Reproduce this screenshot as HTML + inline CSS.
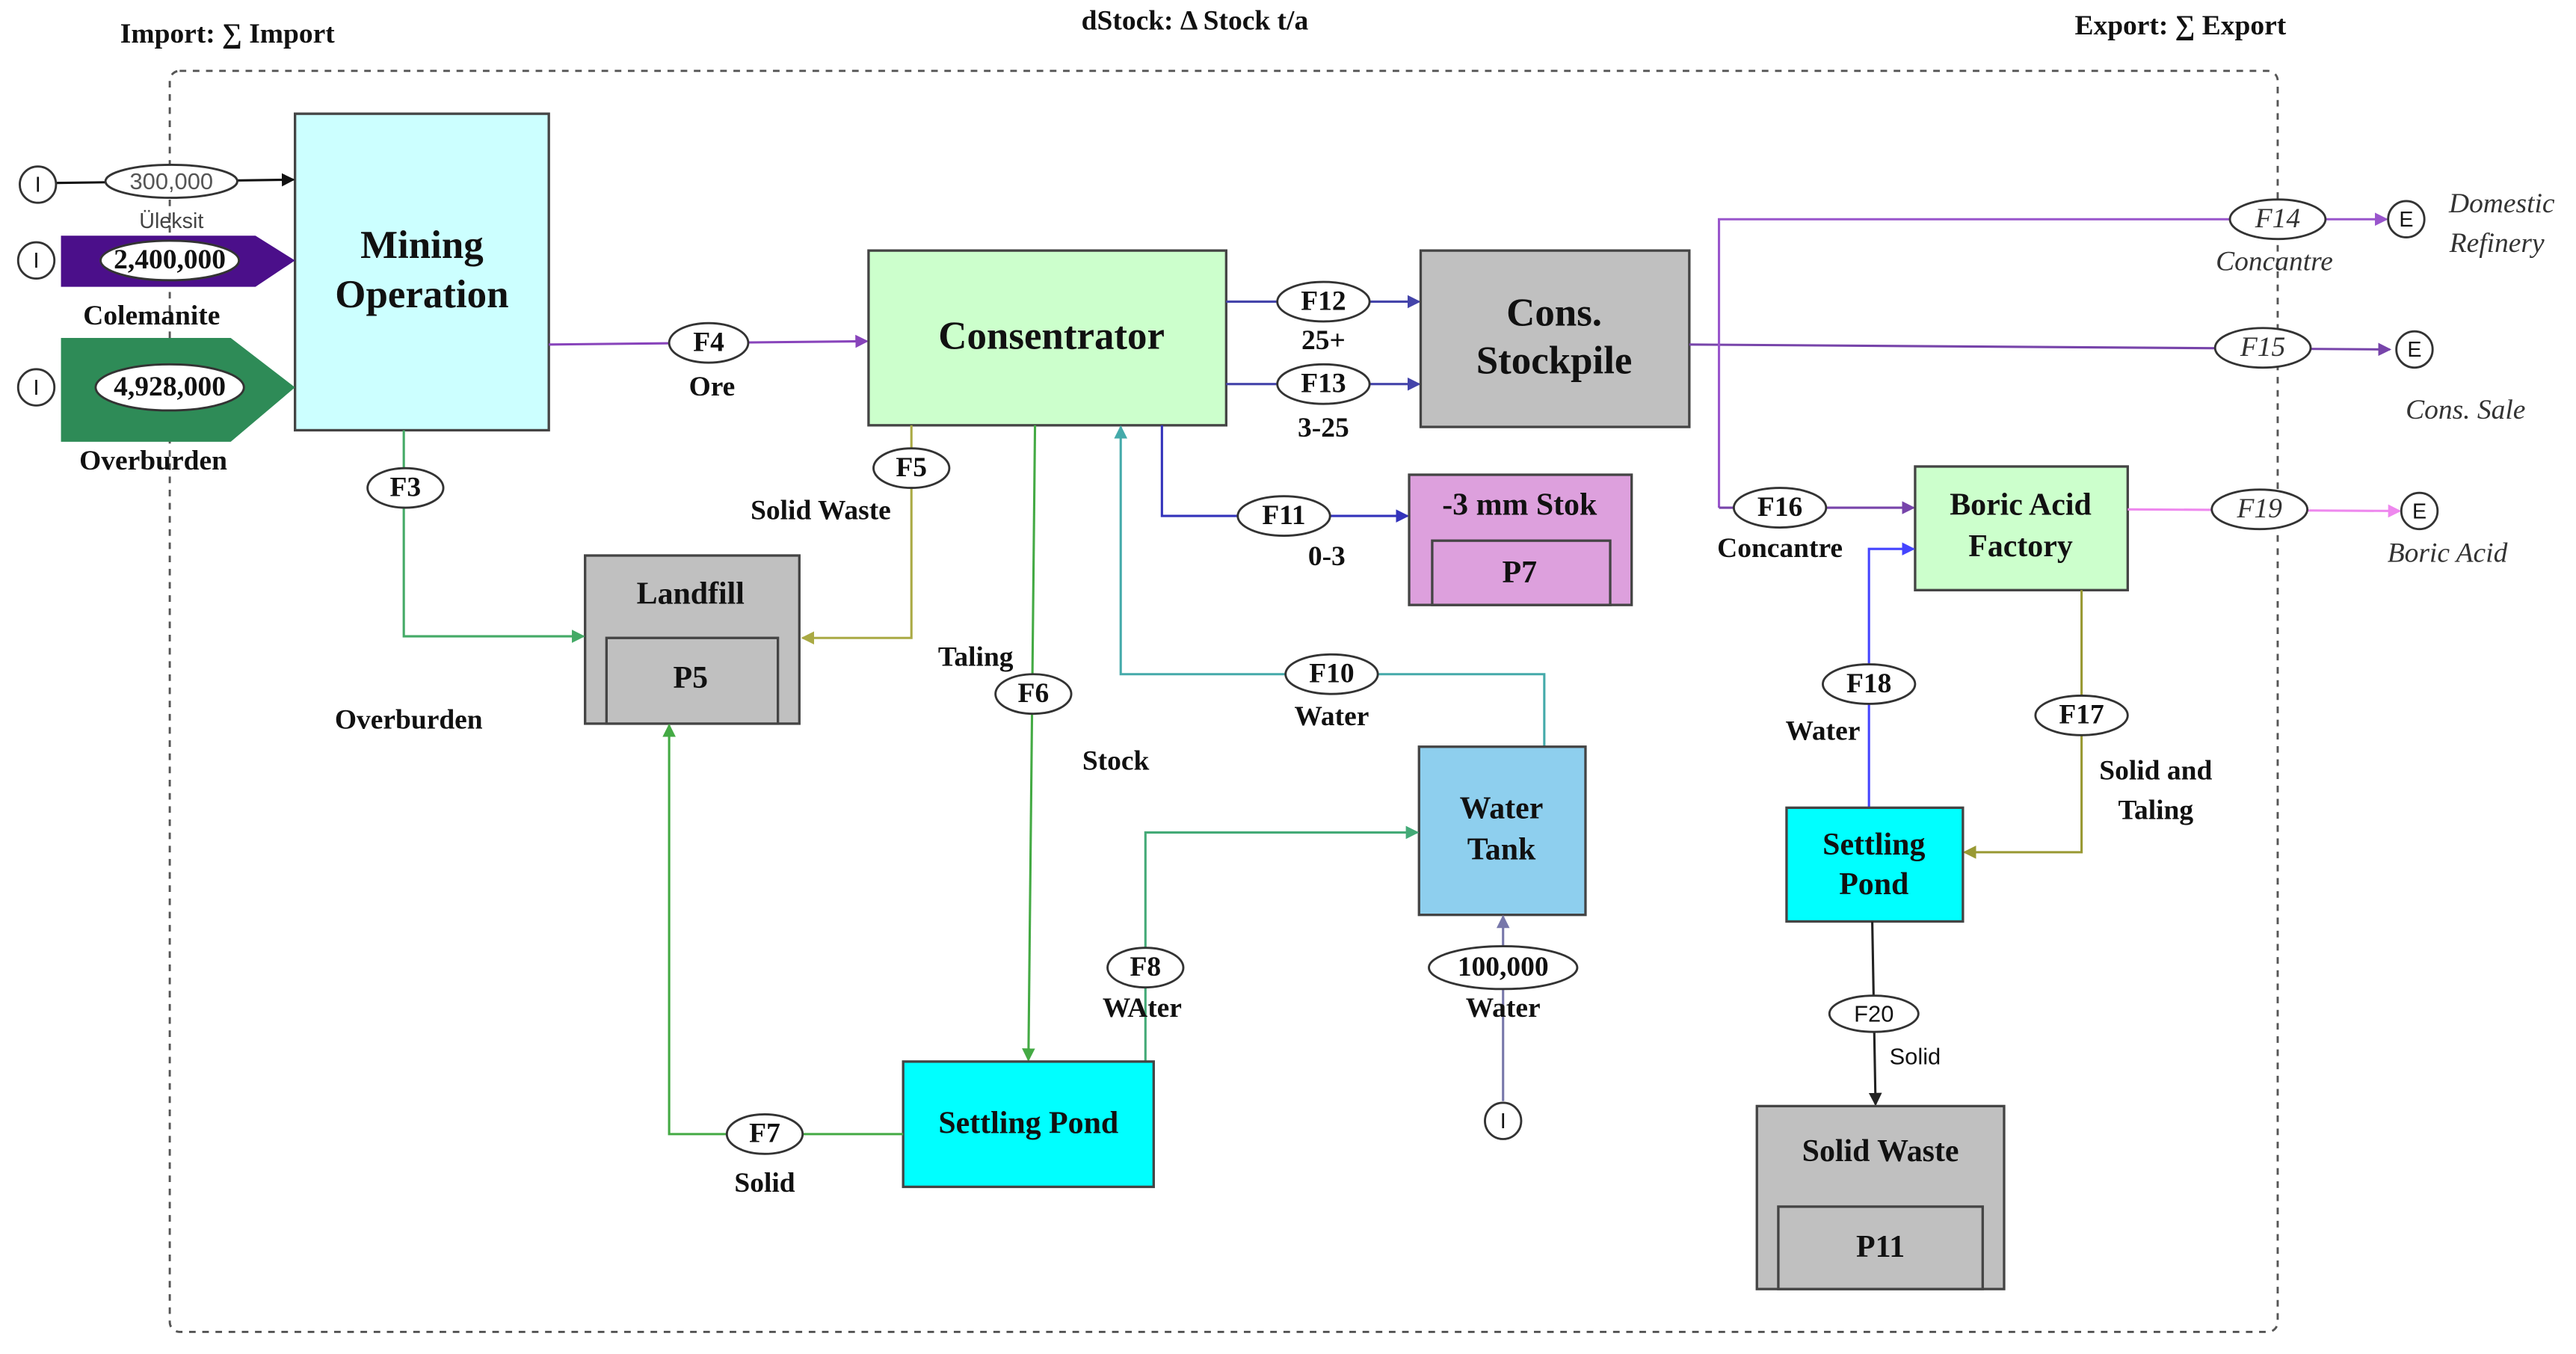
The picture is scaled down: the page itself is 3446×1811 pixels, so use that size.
<!DOCTYPE html>
<html><head><meta charset="utf-8"><style>
html,body{margin:0;padding:0;background:#fff;}
svg{display:block;}
text{font-family:"Liberation Serif",serif;font-weight:bold;fill:#111;text-anchor:middle;dominant-baseline:middle;}
.it{font-style:italic;font-weight:normal;fill:#333;}
.sans{font-family:"Liberation Sans",sans-serif;font-weight:normal;}
.box{stroke:#444;stroke-width:1.5;}
.el{fill:#fff;stroke:#333;stroke-width:1.3;}
.ln{fill:none;stroke-width:1.4;}
</style></head><body>
<svg width="3446" height="1811" viewBox="0 0 1563 821.4" preserveAspectRatio="none" xmlns="http://www.w3.org/2000/svg">
<defs>
<marker id="a" markerWidth="8" markerHeight="8" refX="7" refY="4" orient="auto" markerUnits="userSpaceOnUse"><path d="M0,0 L8,4 L0,8z" fill="context-stroke"/></marker>
</defs>
<rect width="1563" height="821.4" fill="#fff"/>
<!-- titles -->
<text x="138" y="22" font-size="17">Import: ∑ Import</text>
<text x="725" y="14" font-size="17">dStock: Δ Stock t/a</text>
<text x="1323" y="17" font-size="17">Export: ∑ Export</text>
<!-- boundary -->
<rect x="103" y="43" width="1279" height="765" rx="6" fill="none" stroke="#555" stroke-width="1.3" stroke-dasharray="4,4"/>

<!-- Mining -->
<rect class="box" x="179" y="69" width="154" height="192" fill="#ccffff"/>
<text x="256" y="151" font-size="24">Mining</text>
<text x="256" y="181" font-size="24">Operation</text>
<!-- Inputs -->
<line class="ln" x1="34" y1="111" x2="178" y2="109" stroke="#111" stroke-width="2" marker-end="url(#a)"/>
<circle class="el" cx="23" cy="112" r="11"/><text class="sans" x="23" y="113" font-size="13">I</text>
<ellipse class="el" cx="104" cy="110" rx="40" ry="10"/><text class="sans" x="104" y="111" font-size="14" style="fill:#555">300,000</text>
<text class="sans" x="104" y="135" font-size="13" style="fill:#444">Üleksit</text>
<polygon points="37,143 155,143 179,158 155,174 37,174" fill="#4b0f8a"/>
<circle class="el" cx="22" cy="158" r="11"/><text class="sans" x="22" y="159" font-size="13">I</text>
<ellipse class="el" cx="103" cy="158" rx="42" ry="12"/><text x="103" y="159" font-size="17">2,400,000</text>
<text x="92" y="193" font-size="17">Colemanite</text>
<polygon points="37,205 140,205 179,235 140,268 37,268" fill="#2e8b57"/>
<circle class="el" cx="22" cy="235" r="11"/><text class="sans" x="22" y="236" font-size="13">I</text>
<ellipse class="el" cx="103" cy="235" rx="45" ry="14"/><text x="103" y="236" font-size="17">4,928,000</text>
<text x="93" y="281" font-size="17">Overburden</text>

<!-- F4 -->
<line class="ln" x1="333" y1="209" x2="526" y2="207" stroke="#8844bb" marker-end="url(#a)"/>
<ellipse class="el" cx="430" cy="208" rx="24" ry="12"/><text x="430" y="209" font-size="17">F4</text>
<text x="432" y="236" font-size="17">Ore</text>

<!-- Consentrator -->
<rect class="box" x="527" y="152" width="217" height="106" fill="#ccffcc"/>
<text x="638" y="206" font-size="24">Consentrator</text>
<!-- F12/F13 -->
<line class="ln" x1="744" y1="183" x2="861" y2="183" stroke="#4444aa" marker-end="url(#a)"/>
<ellipse class="el" cx="803" cy="183" rx="28" ry="12"/><text x="803" y="184" font-size="17">F12</text>
<text x="803" y="208" font-size="17">25+</text>
<line class="ln" x1="744" y1="233" x2="861" y2="233" stroke="#4444aa" marker-end="url(#a)"/>
<ellipse class="el" cx="803" cy="233" rx="28" ry="12"/><text x="803" y="234" font-size="17">F13</text>
<text x="803" y="261" font-size="17">3-25</text>
<!-- Stockpile -->
<rect class="box" x="862" y="152" width="163" height="107" fill="#c0c0c0"/>
<text x="943" y="192" font-size="24">Cons.</text>
<text x="943" y="221" font-size="24">Stockpile</text>
<!-- F11 -->
<polyline class="ln" points="705,258 705,313 854,313" stroke="#3333bb" marker-end="url(#a)"/>
<ellipse class="el" cx="779" cy="313" rx="28" ry="12"/><text x="779" y="314" font-size="17">F11</text>
<text x="805" y="339" font-size="17">0-3</text>
<rect class="box" x="855" y="288" width="135" height="79" fill="#dda0dd"/>
<rect class="box" x="869" y="328" width="108" height="39" fill="#dda0dd"/>
<text x="922" y="308" font-size="19">-3 mm Stok</text>
<text x="922" y="349" font-size="19">P7</text>
<!-- F5 -->
<polyline class="ln" points="553,258 553,387 487,387" stroke="#aaaa44" marker-end="url(#a)"/>
<ellipse class="el" cx="553" cy="284" rx="23" ry="12"/><text x="553" y="285" font-size="17">F5</text>
<text x="498" y="311" font-size="17">Solid Waste</text>
<!-- Landfill -->
<rect class="box" x="355" y="337" width="130" height="102" fill="#c0c0c0"/>
<rect class="box" x="368" y="387" width="104" height="52" fill="#c0c0c0"/>
<text x="419" y="362" font-size="19">Landfill</text>
<text x="419" y="413" font-size="19">P5</text>
<!-- F3 -->
<polyline class="ln" points="245,261 245,386 354,386" stroke="#44aa66" marker-end="url(#a)"/>
<ellipse class="el" cx="246" cy="296" rx="23" ry="12"/><text x="246" y="297" font-size="17">F3</text>
<text x="248" y="438" font-size="17">Overburden</text>
<!-- F6 -->
<line class="ln" x1="628" y1="258" x2="624" y2="643" stroke="#44aa44" marker-end="url(#a)"/>
<ellipse class="el" cx="627" cy="421" rx="23" ry="12"/><text x="627" y="422" font-size="17">F6</text>
<text x="592" y="400" font-size="17">Taling</text>
<text x="677" y="463" font-size="17">Stock</text>
<!-- F10 -->
<polyline class="ln" points="937,453 937,409 680,409 680,259" stroke="#44aaaa" marker-end="url(#a)"/>
<ellipse class="el" cx="808" cy="409" rx="28" ry="12"/><text x="808" y="410" font-size="17">F10</text>
<text x="808" y="436" font-size="17">Water</text>
<!-- Water tank -->
<rect class="box" x="861" y="453" width="101" height="102" fill="#8ecfee"/>
<text x="911" y="492" font-size="19">Water</text>
<text x="911" y="517" font-size="19">Tank</text>
<!-- F8 -->
<polyline class="ln" points="695,644 695,505 860,505" stroke="#44aa77" marker-end="url(#a)"/>
<ellipse class="el" cx="695" cy="587" rx="23" ry="12"/><text x="695" y="588" font-size="17">F8</text>
<text x="693" y="613" font-size="17">WAter</text>
<!-- 100,000 -->
<line class="ln" x1="912" y1="668" x2="912" y2="556" stroke="#7777aa" marker-end="url(#a)"/>
<ellipse class="el" cx="912" cy="587" rx="45" ry="13"/><text x="912" y="588" font-size="17">100,000</text>
<text x="912" y="613" font-size="17">Water</text>
<circle class="el" cx="912" cy="680" r="11"/><text class="sans" x="912" y="681" font-size="13">I</text>
<!-- Settling pond -->
<rect class="box" x="548" y="644" width="152" height="76" fill="#00ffff"/>
<text x="624" y="683" font-size="19">Settling Pond</text>
<!-- F7 -->
<polyline class="ln" points="548,688 406,688 406,440" stroke="#44aa44" marker-end="url(#a)"/>
<ellipse class="el" cx="464" cy="688" rx="23" ry="12"/><text x="464" y="689" font-size="17">F7</text>
<text x="464" y="719" font-size="17">Solid</text>

<!-- right side -->
<line class="ln" x1="1025" y1="209" x2="1450" y2="212" stroke="#7744aa" stroke-width="2" marker-end="url(#a)"/>
<polyline class="ln" points="1043,308 1043,133 1448,133" stroke="#9955cc" stroke-width="2" marker-end="url(#a)"/>
<ellipse class="el" cx="1382" cy="133" rx="29" ry="12"/><text class="it" x="1382" y="134" font-size="17">F14</text>
<circle class="el" cx="1460" cy="133" r="11"/><text class="sans" x="1460" y="134" font-size="13">E</text>
<text class="it" x="1380" y="160" font-size="17">Concantre</text>
<text class="it" x="1518" y="125" font-size="17">Domestic</text>
<text class="it" x="1515" y="149" font-size="17">Refinery</text>
<ellipse class="el" cx="1373" cy="211" rx="29" ry="12"/><text class="it" x="1373" y="212" font-size="17">F15</text>
<circle class="el" cx="1465" cy="212" r="11"/><text class="sans" x="1465" y="213" font-size="13">E</text>
<text class="it" x="1496" y="250" font-size="17">Cons. Sale</text>
<polyline class="ln" points="1043,308 1161,308" stroke="#7744aa" stroke-width="2" marker-end="url(#a)"/>
<ellipse class="el" cx="1080" cy="308" rx="28" ry="12"/><text x="1080" y="309" font-size="17">F16</text>
<text x="1080" y="334" font-size="17">Concantre</text>
<!-- Boric acid -->
<rect class="box" x="1162" y="283" width="129" height="75" fill="#ccffcc"/>
<text x="1226" y="308" font-size="19">Boric Acid</text>
<text x="1226" y="333" font-size="19">Factory</text>
<line class="ln" x1="1291" y1="309" x2="1456" y2="310" stroke="#ee88ee" marker-end="url(#a)"/>
<ellipse class="el" cx="1371" cy="309" rx="29" ry="12"/><text class="it" x="1371" y="310" font-size="17">F19</text>
<circle class="el" cx="1468" cy="310" r="11"/><text class="sans" x="1468" y="311" font-size="13">E</text>
<text class="it" x="1485" y="337" font-size="17">Boric Acid</text>
<!-- F18 -->
<polyline class="ln" points="1134,490 1134,333 1161,333" stroke="#4444ff" marker-end="url(#a)"/>
<ellipse class="el" cx="1134" cy="415" rx="28" ry="12"/><text x="1134" y="416" font-size="17">F18</text>
<text x="1106" y="445" font-size="17">Water</text>
<!-- F17 -->
<polyline class="ln" points="1263,358 1263,517 1192,517" stroke="#999933" marker-end="url(#a)"/>
<ellipse class="el" cx="1263" cy="434" rx="28" ry="12"/><text x="1263" y="435" font-size="17">F17</text>
<text x="1308" y="469" font-size="17">Solid and</text>
<text x="1308" y="493" font-size="17">Taling</text>
<!-- Settling pond 2 -->
<rect class="box" x="1084" y="490" width="107" height="69" fill="#00ffff"/>
<text x="1137" y="514" font-size="19">Settling</text>
<text x="1137" y="538" font-size="19">Pond</text>
<!-- F20 -->
<line class="ln" x1="1136" y1="559" x2="1138" y2="670" stroke="#222" marker-end="url(#a)"/>
<ellipse class="el" cx="1137" cy="615" rx="27" ry="11"/><text class="sans" x="1137" y="616" font-size="14">F20</text>
<text class="sans" x="1162" y="642" font-size="14">Solid</text>
<!-- Solid waste -->
<rect class="box" x="1066" y="671" width="150" height="111" fill="#c0c0c0"/>
<rect class="box" x="1079" y="732" width="124" height="50" fill="#c0c0c0"/>
<text x="1141" y="700" font-size="19">Solid Waste</text>
<text x="1141" y="758" font-size="19">P11</text>
</svg>
</body></html>
